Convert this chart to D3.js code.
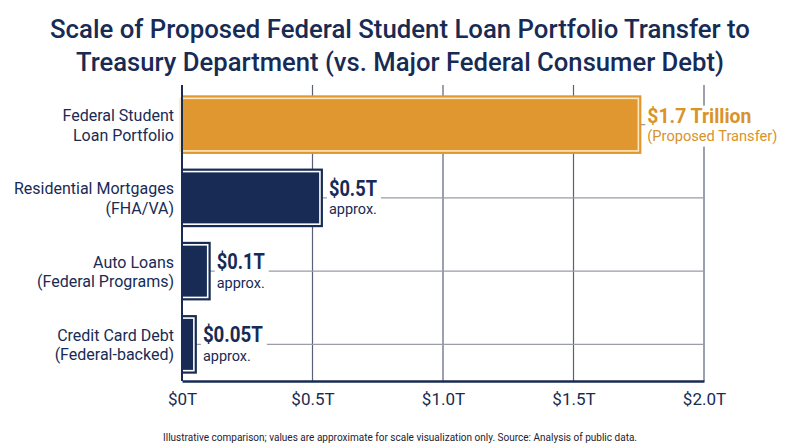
<!DOCTYPE html>
<html>
<head>
<meta charset="utf-8">
<script src="https://cdn.jsdelivr.net/npm/d3@7/dist/d3.min.js"></script>
<style>
  html, body { margin: 0; padding: 0; background: #ffffff; }
  svg { display: block; font-family: Roboto, "Noto Sans", sans-serif; }
</style>
</head>
<body>
<svg id="chart" width="800" height="447"></svg>
<script>
// ---- data ----
const categories = [
  ["Federal Student", "Loan Portfolio"],
  ["Residential Mortgages", "(FHA/VA)"],
  ["Auto Loans", "(Federal Programs)"],
  ["Credit Card Debt", "(Federal-backed)"]
];
const values = [1.76, 0.54, 0.11, 0.057];
const valueLabels = ["$1.7 Trillion", "$0.5T", "$0.1T", "$0.05T"];
const subLabels = ["(Proposed Transfer)", "approx.", "approx.", "approx."];
const tickValues = [0, 0.5, 1.0, 1.5, 2.0];
const tickLabels = ["$0T", "$0.5T", "$1.0T", "$1.5T", "$2.0T"];
const titleLines = [
  "Scale of Proposed Federal Student Loan Portfolio Transfer to",
  "Treasury Department (vs. Major Federal Consumer Debt)"
];
const footnote = "Illustrative comparison; values are approximate for scale visualization only. Source: Analysis of public data.";

// ---- styles ----
const NAVY = "#172b54";
const GOLD = "#e0972f";
const GOLD_TEXT = "#d99329";
const CREAM = "#fbe9bd";

const svg = d3.select("#chart");
const pLeft = 182, pRight = 704, pTop = 85, pBottom = 381;

const x = d3.scaleLinear().domain([0, 2]).range([pLeft, pRight]);
const y = d3.scaleBand().domain(d3.range(categories.length)).range([88, pBottom]).paddingInner(0.2).paddingOuter(0.1);

// title
svg.append("g").selectAll("text").data(titleLines).join("text")
  .attr("x", 400).attr("y", (d, i) => 38 + i * 33)
  .attr("text-anchor", "middle")
  .attr("font-size", 25).attr("font-weight", 500).attr("fill", NAVY)
  .attr("textLength", (d, i) => i === 0 ? 700 : 648)
  .attr("lengthAdjust", "spacingAndGlyphs")
  .text(d => d);

// vertical gridlines
svg.append("g").selectAll("line").data(tickValues.slice(1)).join("line")
  .attr("x1", d => x(d)).attr("x2", d => x(d))
  .attr("y1", pTop).attr("y2", pBottom)
  .attr("stroke", "#5b6078").attr("stroke-width", 1.2);

// horizontal gridlines at band centers
svg.append("g").selectAll("line").data(d3.range(categories.length)).join("line")
  .attr("x1", pLeft).attr("x2", pRight)
  .attr("y1", d => y(d) + y.bandwidth() / 2).attr("y2", d => y(d) + y.bandwidth() / 2)
  .attr("stroke", "#9a9ca6").attr("stroke-width", 1.2);

// bars
const bars = svg.append("g").selectAll("g").data(values).join("g");
bars.append("rect")
  .attr("x", x(0)).attr("y", (d, i) => y(i))
  .attr("width", d => x(d) - x(0)).attr("height", y.bandwidth())
  .attr("fill", (d, i) => i === 0 ? GOLD : NAVY);
bars.append("rect")
  .attr("x", x(0) - 2).attr("y", (d, i) => y(i) + 3)
  .attr("width", d => x(d) - x(0) - 1).attr("height", y.bandwidth() - 6)
  .attr("fill", "none")
  .attr("stroke", (d, i) => i === 0 ? CREAM : "#ffffff").attr("stroke-width", 1.6);

// value labels with white backgrounds
const lab = svg.append("g").selectAll("g").data(values).join("g")
  .attr("transform", (d, i) => `translate(${x(d) + 6},${y(i) + y.bandwidth() / 2})`);
const bigLens = [104, 48, 48, 60];
const subLens = [130, 48, 48, 48];
lab.append("rect")
  .attr("x", -2).attr("y", -19)
  .attr("width", (d, i) => Math.max(bigLens[i], subLens[i]) + 6)
  .attr("height", 41)
  .attr("fill", "#ffffff");
const lt = lab.append("text")
  .attr("fill", (d, i) => i === 0 ? GOLD_TEXT : NAVY);
lt.append("tspan")
  .attr("x", 0).attr("y", -2)
  .attr("font-size", (d, i) => i === 0 ? 21 : 21.5).attr("font-weight", 700)
  .attr("textLength", (d, i) => bigLens[i]).attr("lengthAdjust", "spacingAndGlyphs")
  .text((d, i) => valueLabels[i]);
lt.append("tspan")
  .attr("x", 0).attr("y", (d, i) => i === 0 ? 16 : 16.5)
  .attr("font-size", 15)
  .attr("textLength", (d, i) => subLens[i]).attr("lengthAdjust", "spacingAndGlyphs")
  .text((d, i) => subLabels[i]);

// category labels
const cat = svg.append("g").selectAll("text").data(categories).join("text")
  .attr("text-anchor", "end").attr("font-size", 16).attr("fill", NAVY)
  .attr("transform", (d, i) => `translate(174,${y(i) + y.bandwidth() / 2})`);
cat.selectAll("tspan").data(d => d).join("tspan")
  .attr("x", 0).attr("y", (d, j) => j === 0 ? -3.5 : 16)
  .text(d => d);

// axes lines
svg.append("line").attr("x1", pLeft).attr("x2", pLeft).attr("y1", pTop).attr("y2", pBottom)
  .attr("stroke", NAVY).attr("stroke-width", 2);
const xAxis = d3.axisBottom(x).tickValues(tickValues)
  .tickFormat((d, i) => tickLabels[i]).tickSize(0).tickPadding(12);
const ax = svg.append("g").attr("transform", `translate(0,${pBottom})`).call(xAxis);
ax.select(".domain").attr("stroke", NAVY).attr("stroke-width", 2.5);
ax.selectAll("text").attr("font-size", 17).attr("fill", NAVY)
  .attr("font-family", "Roboto, sans-serif");

// footnote
svg.append("text").attr("x", 400).attr("y", 441).attr("text-anchor", "middle")
  .attr("font-size", 11.5).attr("fill", "#1e2230")
  .attr("textLength", 474).attr("lengthAdjust", "spacingAndGlyphs")
  .text(footnote);
</script>
</body>
</html>
